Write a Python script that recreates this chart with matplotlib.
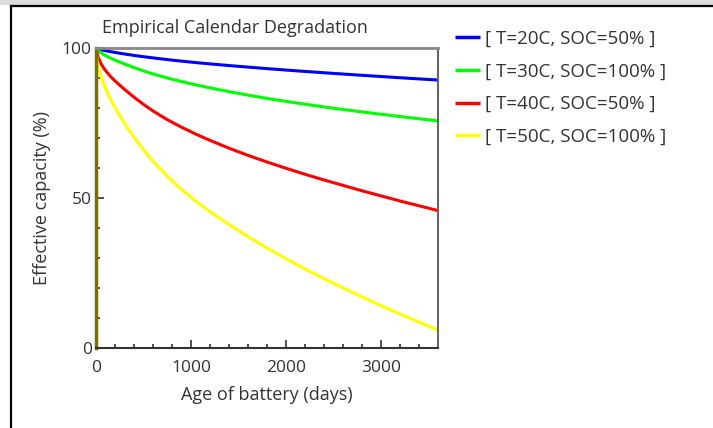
import matplotlib
matplotlib.use("Agg")
import matplotlib.pyplot as plt
from matplotlib.lines import Line2D
from matplotlib.patches import Rectangle
from matplotlib.ticker import MultipleLocator

plt.rcParams['font.family'] = ['Open Sans', 'DejaVu Sans']

days = [0, 10, 25, 50, 75, 100, 150, 200, 300, 400, 500, 600, 750, 900, 1050, 1200,
        1400, 1600, 1800, 2000, 2200, 2400, 2600, 2800, 3000, 3200, 3400, 3600]
cap_20_50 = [100, 99.85, 99.68, 99.45, 99.27, 99.1, 98.8, 98.52, 98.0, 97.53, 97.1, 96.7, 96.14, 95.62,
             95.14, 94.7, 94.15, 93.63, 93.13, 92.65, 92.19, 91.75, 91.32, 90.9, 90.49, 90.09, 89.7, 89.32]
cap_30_100 = [100, 99.5, 99.0, 98.4, 97.9, 97.45, 96.65, 95.95, 94.65, 93.45, 92.35, 91.35, 90.0, 88.8,
              87.7, 86.7, 85.45, 84.3, 83.2, 82.2, 81.25, 80.35, 79.5, 78.7, 77.9, 77.15, 76.4, 75.7]
cap_40_50 = [100, 98.2, 96.7, 94.95, 93.6, 92.5, 90.6, 89.0, 86.2, 83.6, 81.2, 79.0, 76.1, 73.6,
             71.3, 69.2, 66.6, 64.2, 62.0, 59.9, 57.9, 56.0, 54.2, 52.4, 50.7, 49.0, 47.4, 45.8]
cap_50_100 = [100, 96.0, 93.5, 90.6, 88.4, 86.4, 83.0, 80.0, 74.8, 70.2, 66.0, 62.2, 57.2, 52.8,
              48.9, 45.4, 41.1, 37.1, 33.3, 29.7, 26.3, 23.1, 20.0, 17.0, 14.1, 11.3, 8.6, 6.0]

labels = ["[ T=20C, SOC=50% ]", "[ T=30C, SOC=100% ]",
          "[ T=40C, SOC=50% ]", "[ T=50C, SOC=100% ]"]
series = [cap_20_50, cap_30_100, cap_40_50, cap_50_100]
colors = ["#0000ff", "#00ff00", "#ff0000", "#ffff00"]

txt = "#333333"
W, H = 713, 428
fig = plt.figure(figsize=(W / 100, H / 100), dpi=100)
fig.patch.set_facecolor("white")

# window frame
fig.add_artist(Rectangle((0, 1 - 5 / H), 1, 5 / H, transform=fig.transFigure,
                         facecolor="#dcdcdc", edgecolor="none"))
fig.add_artist(Line2D([11 / W, 1], [1 - 6 / H, 1 - 6 / H], transform=fig.transFigure,
                      color="black", lw=1.6))
fig.add_artist(Line2D([11 / W, 11 / W], [0, 1 - 6 / H], transform=fig.transFigure,
                      color="black", lw=1.6))

ax = fig.add_axes([96 / W, 1 - 348 / H, 342 / W, 300 / H])
for y, c, lab in zip(series, colors, labels):
    ax.plot(days, y, color=c, lw=2.2, label=lab, solid_capstyle="butt",
            solid_joinstyle="round")

ax.set_xlim(0, 3600)
ax.set_ylim(0, 100)
ax.xaxis.set_major_locator(MultipleLocator(1000))
ax.xaxis.set_minor_locator(MultipleLocator(200))
ax.yaxis.set_major_locator(MultipleLocator(50))
ax.yaxis.set_minor_locator(MultipleLocator(10))
ax.tick_params(which="both", direction="in", colors="#333333", labelcolor=txt,
               labelsize=12.5)
ax.tick_params(which="major", length=6, width=1.2)
ax.tick_params(which="minor", length=3, width=1.2)
ax.tick_params(axis="x", pad=9)
ax.tick_params(axis="y", pad=3)

ax.spines["top"].set_color("#8a8a8a")
ax.spines["top"].set_linewidth(2)
ax.spines["right"].set_color("#666666")
ax.spines["right"].set_linewidth(1.5)
ax.spines["bottom"].set_color("#333333")
ax.spines["bottom"].set_linewidth(1.5)
ax.spines["left"].set_color("#7a7000")
ax.spines["left"].set_linewidth(2.5)

ax.set_xlabel("Age of battery (days)", fontsize=13, color=txt, labelpad=7)
ax.set_ylabel("Effective capacity (%)", fontsize=13, color=txt, labelpad=8)
fig.text(235 / W, 1 - 28 / H, "Empirical Calendar Degradation", fontsize=13,
         color=txt, ha="center", va="center")

leg = ax.legend(loc="upper left", bbox_to_anchor=(455 / W, 1 - 30 / H),
                bbox_transform=fig.transFigure, frameon=False, fontsize=13.5,
                handlelength=1.35, handletextpad=0.25, labelspacing=0.78,
                borderaxespad=0, borderpad=0)
for t in leg.get_texts():
    t.set_color(txt)
for h in leg.legend_handles:
    h.set_linewidth(2.5)

fig.savefig("out.png", dpi=100)
